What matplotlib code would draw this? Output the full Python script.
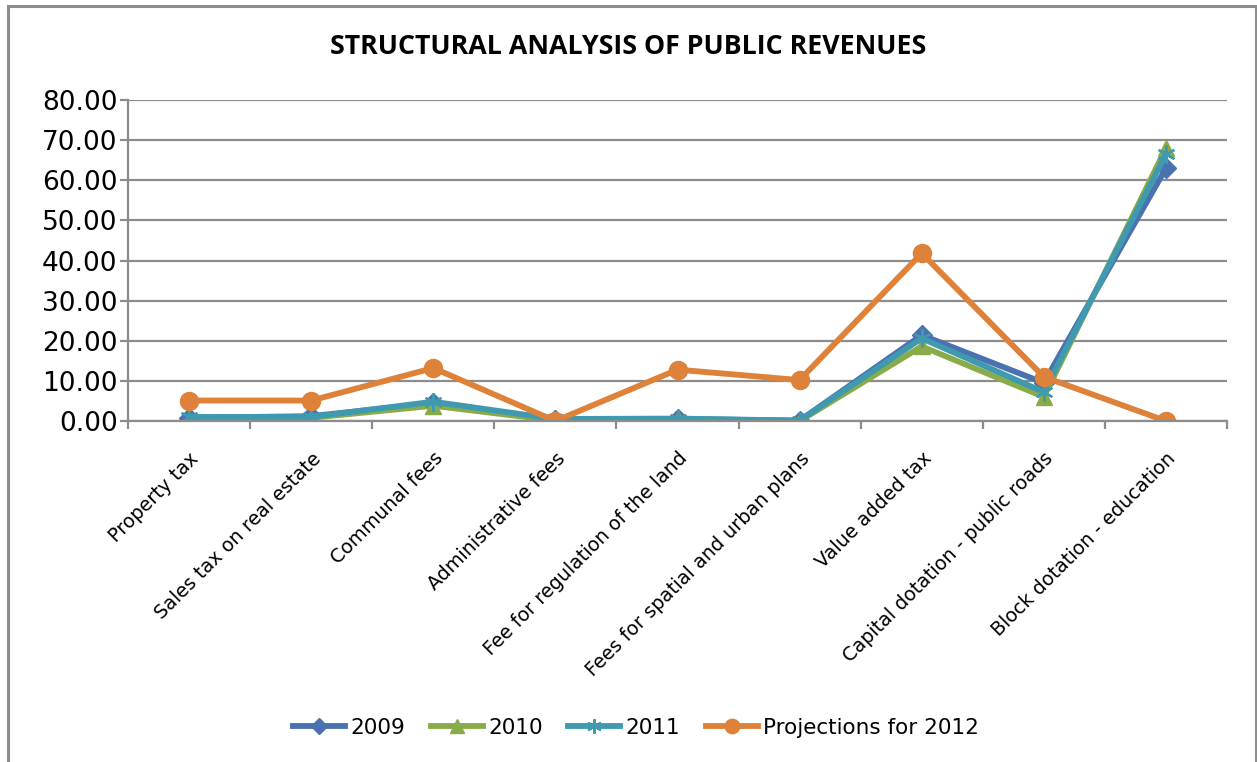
import matplotlib.pyplot as plt
from matplotlib.patches import Rectangle

categories = ["Property tax", "Sales tax on real estate", "Communal fees",
              "Administrative fees", "Fee for regulation of the land",
              "Fees for spatial and urban plans", "Value added tax",
              "Capital dotation - public roads", "Block dotation - education"]

y2009 = [0.8, 1.2, 4.5, 0.3, 0.5, 0.1, 21.4, 9.5, 63.0]
y2010 = [0.2, 0.8, 3.8, 0.1, 0.5, 0.0, 18.6, 6.0, 68.0]
y2011 = [1.0, 1.0, 4.8, 0.5, 0.6, 0.1, 20.6, 7.2, 66.5]
y2012 = [5.1, 5.1, 13.2, 0.0, 12.8, 10.2, 41.8, 11.0, 0.0]

yticks = [0, 10, 20, 30, 40, 50, 60, 70, 80]

W, H = 1257, 762
fig = plt.figure(figsize=(W / 100, H / 100), dpi=100)
fig.patches.append(Rectangle((8 / W, -0.1), (1256 - 8) / W, 1.1 - 6 / H,
                             transform=fig.transFigure, fill=False,
                             edgecolor="#8c8c8c", linewidth=2.2))

ax = fig.add_axes([128 / W, 1 - 421 / H, (1227 - 128) / W, (421 - 100) / H])

x = list(range(len(categories)))
ax.plot(x, y2009, color="#4a72b0", linewidth=4.2, marker="D", markersize=10, label="2009")
ax.plot(x, y2010, color="#8aab4a", linewidth=4.2, marker="^", markersize=12, label="2010")
ax.plot(x, y2011, color="#3f9ab0", linewidth=4.2, marker=(6, 2, 0), markersize=13,
        markeredgewidth=1.6, label="2011")
ax.plot(x, y2012, color="#de8139", linewidth=4.2, marker="o", markersize=13,
        label="Projections for 2012")

ax.set_xlim(-0.5, len(categories) - 0.5)
ax.set_ylim(0, 80)
ax.set_yticks(yticks)
ax.set_yticklabels(["%.2f" % v for v in yticks], fontsize=19)
ax.yaxis.grid(True, color="#8c8c8c", linewidth=1.6)
ax.set_axisbelow(True)

ax.set_xticks(x)
ax.set_xticklabels(categories, rotation=45, ha="right", rotation_mode="anchor", fontsize=13.8)
ax.set_xticks([i - 0.5 for i in range(len(categories) + 1)], minor=True)
ax.tick_params(axis="x", which="major", length=0, pad=20)
ax.tick_params(axis="x", which="minor", length=6, width=1.6, color="#8c8c8c", direction="out")
ax.tick_params(axis="y", length=6, width=1.6, color="#8c8c8c", pad=1.5)

for s in ["top", "right"]:
    ax.spines[s].set_visible(False)
for s in ["left", "bottom"]:
    ax.spines[s].set_color("#8c8c8c")
    ax.spines[s].set_linewidth(1.6)

fig.text(0.5, 1 - 47 / H, "STRUCTURAL ANALYSIS OF PUBLIC REVENUES", ha="center", va="center",
         fontsize=19.3, fontweight="bold", family="Open Sans")

fig.legend(loc="center", bbox_to_anchor=(0.506, 1 - 728 / H), ncol=4, frameon=False,
           fontsize=15.5, handlelength=2.4, columnspacing=1.2, handletextpad=0.25,
           markerscale=0.8)

fig.savefig("out.png", dpi=100)
